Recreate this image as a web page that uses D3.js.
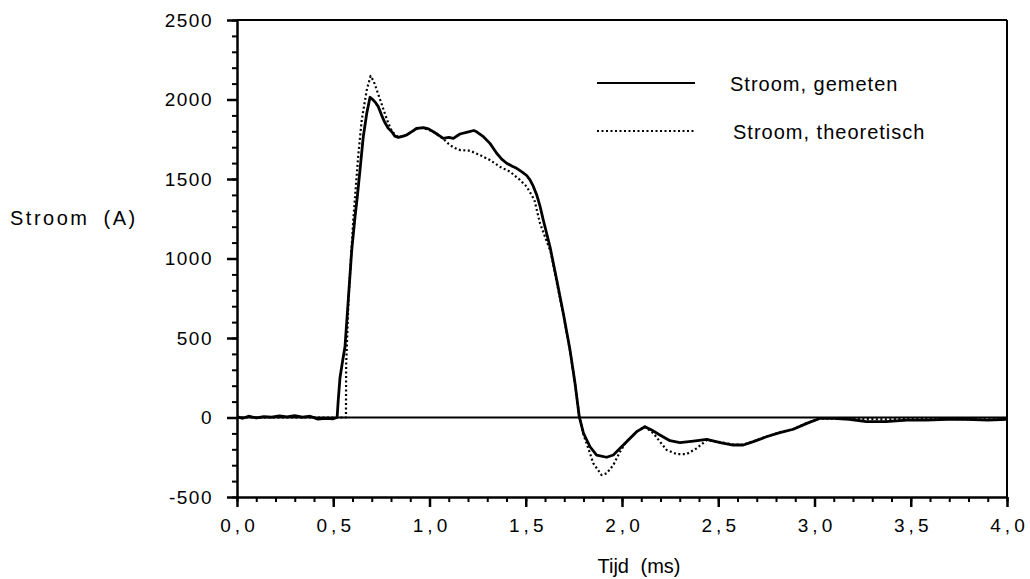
<!DOCTYPE html>
<html>
<head>
<meta charset="utf-8">
<script src="https://cdn.jsdelivr.net/npm/d3@7"></script>
<style>
  html, body { margin: 0; padding: 0; background: #fff; }
  svg { display: block; }
  text { font-family: "Liberation Sans", Arial, Helvetica, sans-serif; fill: #000; }
</style>
</head>
<body>
<svg id="chart" width="1030" height="579"></svg>
<script>
// ---- data ----
const xMajorTicks = [0, 0.5, 1, 1.5, 2, 2.5, 3, 3.5, 4];
const xTickLabels = ["0,0", "0,5", "1,0", "1,5", "2,0", "2,5", "3,0", "3,5", "4,0"];
const yMajorTicks = [-500, 0, 500, 1000, 1500, 2000, 2500];
const yTickLabels = ["-500", "0", "500", "1000", "1500", "2000", "2500"];
const xLabel = "Tijd (ms)";
const yLabel = "Stroom (A)";
const seriesNames = ["Stroom, gemeten", "Stroom, theoretisch"];

// measured current (ms, A)
const measuredTime = [0.00,0.03,0.06,0.10,0.14,0.18,0.22,0.26,0.30,0.34,0.38,0.42,0.46,0.50,0.52,0.526,0.535,0.544,0.552,0.561,0.578,0.596,0.613,0.625,0.639,0.656,0.674,0.691,0.705,0.72,0.734,0.75,0.766,0.785,0.804,0.82,0.838,0.86,0.881,0.91,0.934,0.968,0.995,1.02,1.045,1.072,1.10,1.124,1.158,1.202,1.23,1.245,1.28,1.314,1.349,1.375,1.401,1.43,1.453,1.48,1.505,1.522,1.539,1.557,1.574,1.591,1.626,1.661,1.695,1.73,1.756,1.778,1.80,1.834,1.868,1.92,1.955,1.99,2.024,2.076,2.119,2.154,2.197,2.249,2.301,2.371,2.44,2.51,2.578,2.63,2.682,2.75,2.82,2.89,2.96,3.03,3.10,3.18,3.27,3.37,3.48,3.58,3.69,3.79,3.90,4.00];
const measuredCurrent = [5,-5,8,-3,6,2,10,4,12,3,8,-10,-5,-8,0,110,250,320,380,445,739,1053,1260,1390,1557,1766,1913,2014,2000,1980,1955,1905,1860,1820,1797,1770,1762,1768,1777,1800,1819,1823,1815,1797,1778,1756,1762,1756,1783,1797,1805,1797,1766,1724,1662,1625,1599,1580,1567,1545,1522,1495,1455,1400,1330,1242,1074,865,655,424,215,5,-99,-184,-236,-250,-236,-194,-152,-89,-58,-79,-110,-146,-158,-148,-137,-158,-173,-173,-152,-121,-95,-74,-37,-5,-5,-11,-26,-26,-16,-16,-11,-11,-16,-11];

// theoretical current (ms, A)
const theoryTime = [0.00,0.566,0.567,0.58,0.604,0.63,0.648,0.674,0.694,0.71,0.726,0.75,0.78,0.804,0.838,0.881,0.934,0.968,1.02,1.072,1.10,1.124,1.158,1.21,1.262,1.314,1.366,1.418,1.47,1.505,1.545,1.574,1.63,1.661,1.695,1.73,1.756,1.778,1.80,1.816,1.851,1.894,1.92,1.955,1.99,2.024,2.076,2.119,2.163,2.197,2.232,2.284,2.336,2.388,2.44,2.51,2.578,2.63,2.682,2.75,2.82,2.89,2.96,3.03,3.10,3.18,3.27,3.37,3.48,3.58,3.69,3.79,3.90,4.00];
const theoryCurrent = [0,0,330,760,1242,1650,1871,2060,2148,2115,2060,1976,1870,1800,1762,1777,1815,1822,1797,1752,1720,1699,1682,1678,1651,1619,1577,1546,1494,1452,1368,1221,1040,850,650,420,215,5,-110,-162,-288,-362,-351,-299,-215,-150,-89,-58,-99,-152,-204,-230,-230,-194,-142,-155,-170,-172,-150,-120,-93,-72,-35,-5,-8,-8,-10,-12,-8,-10,-8,-12,-12,-10];

// ---- drawing ----
const svg = d3.select("#chart");
const x = d3.scaleLinear().domain([0, 4]).range([237, 1007]);
const y = d3.scaleLinear().domain([-500, 2500]).range([497, 20]);

const xMinor = d3.range(0, 41).map(i => i / 10);
const yMinor = d3.range(-5, 26).map(i => i * 100);
const ink = "#000";

// frame top & right
svg.append("line").attr("x1", x(0)).attr("x2", x(4)).attr("y1", y(2500)).attr("y2", y(2500))
  .attr("stroke", ink).attr("stroke-width", 2);
svg.append("line").attr("x1", x(4)).attr("x2", x(4)).attr("y1", y(2500)).attr("y2", y(-500))
  .attr("stroke", ink).attr("stroke-width", 2);

// zero line
svg.append("line").attr("x1", x(0)).attr("x2", x(4)).attr("y1", y(0)).attr("y2", y(0))
  .attr("stroke", ink).attr("stroke-width", 2);

// minor axes
svg.append("g").attr("transform", `translate(0,${y(-500)})`)
  .call(d3.axisBottom(x).tickValues(xMinor).tickSize(5).tickSizeOuter(0).tickFormat(""))
  .call(g => g.selectAll("line").attr("stroke", ink).attr("stroke-width", 2))
  .call(g => g.select(".domain").attr("stroke", ink).attr("stroke-width", 2.5));
svg.append("g").attr("transform", `translate(${x(0)},0)`)
  .call(d3.axisLeft(y).tickValues(yMinor).tickSize(5).tickSizeOuter(0).tickFormat(""))
  .call(g => g.selectAll("line").attr("stroke", ink).attr("stroke-width", 2))
  .call(g => g.select(".domain").attr("stroke", ink).attr("stroke-width", 2.5));

// major axes
svg.append("g").attr("transform", `translate(0,${y(-500)})`)
  .call(d3.axisBottom(x).tickValues(xMajorTicks).tickSize(10).tickSizeOuter(0).tickPadding(12)
    .tickFormat((d, i) => xTickLabels[i]))
  .call(g => g.select(".domain").remove())
  .call(g => g.selectAll("line").attr("stroke", ink).attr("stroke-width", 2.5))
  .call(g => g.selectAll("text").attr("font-size", 19).attr("letter-spacing", "4px")
    .attr("dx", "2px").attr("fill", ink).style("font-family", '"Liberation Sans", Arial, sans-serif'));
svg.append("g").attr("transform", `translate(${x(0)},0)`)
  .call(d3.axisLeft(y).tickValues(yMajorTicks).tickSize(10).tickSizeOuter(0).tickPadding(14)
    .tickFormat((d, i) => yTickLabels[i]))
  .call(g => g.select(".domain").remove())
  .call(g => g.selectAll("line").attr("stroke", ink).attr("stroke-width", 2.5))
  .call(g => g.selectAll("text").attr("font-size", 19).attr("letter-spacing", "1.5px")
    .attr("fill", ink).style("font-family", '"Liberation Sans", Arial, sans-serif'));

// axis titles
svg.append("text").attr("x", 639).attr("y", 573).attr("text-anchor", "middle")
  .attr("font-size", 20).attr("word-spacing", "6px").text(xLabel);
svg.append("text").attr("x", 10).attr("y", 225).attr("text-anchor", "start")
  .attr("font-size", 20).attr("letter-spacing", "2.5px").attr("word-spacing", "6px").text(yLabel);

// curves
const line = d3.line().x(d => x(d[0])).y(d => y(d[1]));
const measured = measuredTime.map((t, i) => [t, measuredCurrent[i]]);
const theory = theoryTime.map((t, i) => [t, theoryCurrent[i]]);

svg.append("path").datum(theory).attr("d", line)
  .attr("fill", "none").attr("stroke", ink).attr("stroke-width", 2.2)
  .attr("stroke-dasharray", "2,2.5").attr("stroke-linejoin", "round");
svg.append("path").datum(measured).attr("d", line)
  .attr("fill", "none").attr("stroke", ink).attr("stroke-width", 2.8)
  .attr("stroke-linejoin", "round");

// legend
const legendY = [83, 131];
const legendStyle = [{dash: null, w: 2.2}, {dash: "2,2.5", w: 2}];
seriesNames.forEach((name, i) => {
  const l = svg.append("line").attr("x1", 597).attr("x2", 695).attr("y1", legendY[i]).attr("y2", legendY[i])
    .attr("stroke", ink).attr("stroke-width", legendStyle[i].w);
  if (legendStyle[i].dash) l.attr("stroke-dasharray", legendStyle[i].dash);
  svg.append("text").attr("x", i === 0 ? 730 : 733).attr("y", legendY[i] + 8)
    .attr("font-size", 20).attr("letter-spacing", "1px").text(name);
});
</script>
</body>
</html>
